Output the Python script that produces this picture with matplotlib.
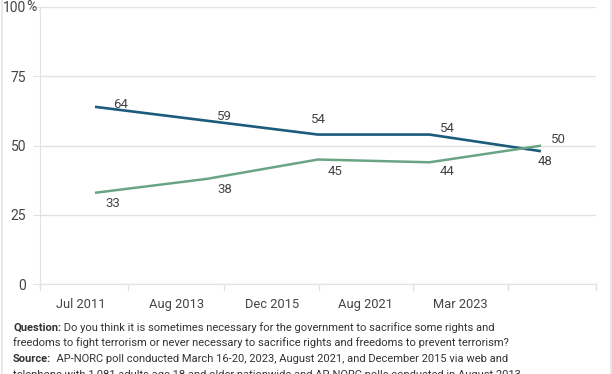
import matplotlib.pyplot as plt
from matplotlib.lines import Line2D

plt.rcParams['font.family'] = ['Roboto', 'DejaVu Sans']

dates = ['Jul 2011', 'Aug 2013', 'Dec 2015', 'Aug 2021', 'Mar 2023']
sometimes = [64, 59, 54, 54, 48]
never = [33, 38, 45, 44, 50]

# label offsets in pixels (dx, dy)
off_sometimes = [(26, 2), (18, 4), (0, 15), (18, 6), (4, -10)]
off_never = [(18, -11), (18, -11), (17, -12), (18, -9), (17, 6)]

blue = '#1b5b7c'
green = '#6ba485'
grid = '#e2e2e2'
txt = '#444444'

fig = plt.figure(figsize=(6.12, 3.74), dpi=100)
ax = fig.add_axes([40 / 612, 1 - 284.3 / 374, 556 / 612, 277.3 / 374])

xs = list(range(len(dates)))
ax.plot(xs, sometimes, color=blue, lw=1.9, solid_capstyle='butt', zorder=3)
ax.plot(xs, never, color=green, lw=1.8, solid_capstyle='butt', zorder=3)

px = 72 / 100  # pixels -> points
for x, v, (dx, dy) in zip(xs, sometimes, off_sometimes):
    ax.annotate(str(v), (x, v), xytext=(dx * px, dy * px), textcoords='offset points',
                ha='center', va='center', fontsize=9.5, color=txt, zorder=4)
for x, v, (dx, dy) in zip(xs, never, off_never):
    ax.annotate(str(v), (x, v), xytext=(dx * px, dy * px), textcoords='offset points',
                ha='center', va='center', fontsize=9.5, color=txt, zorder=4)

ax.set_xlim(-0.4933, 4.4933)
ax.set_ylim(0, 100)

ax.set_yticks([0, 25, 50, 75, 100])
ax.set_yticklabels(['0', '25', '50', '75', '100'])
ax.tick_params(axis='y', length=5, color=grid, labelsize=10, labelcolor=txt, pad=5)
fig.text(26.5 / 612, 1 - 7 / 374, '%', fontsize=10, color=txt, ha='left', va='center')
ax.yaxis.grid(True, color=grid, lw=1)
ax.set_axisbelow(True)

# category labels and band separators
label_pos = [-0.126, 0.735, 1.587, 2.43, 3.28]
sep_pos = [-0.4933, 0.296, 1.157, 2.009, 2.852, 3.704, 4.4933]
ax.set_xticks(label_pos)
ax.set_xticklabels(dates)
ax.tick_params(axis='x', length=0, labelsize=9.3, labelcolor=txt, pad=10)
xform = ax.get_xaxis_transform()
for s in sep_pos:
    ax.add_line(Line2D([s, s], [0, -0.02], transform=xform, color=grid, lw=1, clip_on=False))

for s in ['top', 'right']:
    ax.spines[s].set_visible(False)
ax.spines['left'].set_color(grid)
ax.spines['bottom'].set_color(grid)

# footnote
fs = 8
rows = [
    ('Question:', ' Do you think it is sometimes necessary for the government to sacrifice some rights and'),
    ('', 'freedoms to fight terrorism or never necessary to sacrifice rights and freedoms to prevent terrorism?'),
    ('Source:', '  AP-NORC poll conducted March 16-20, 2023, August 2021, and December 2015 via web and'),
    ('', 'telephone with 1,081 adults age 18 and older nationwide and AP-NORC polls conducted in August 2013'),
]
y0 = 1 - 331 / 374
for i, (b, rest) in enumerate(rows):
    y = y0 - i * 15.5 / 374
    if b:
        t = fig.text(13 / 612, y, b, fontsize=fs, fontweight='bold', color='#333333', va='baseline')
        fig.canvas.draw()
        ext = t.get_window_extent()
        fig.text(ext.x1 / 612, y, rest, fontsize=fs, color='#333333', va='baseline')
    else:
        fig.text(13 / 612, y, rest, fontsize=fs, color='#333333', va='baseline')

# frame lines
fig.add_artist(Line2D([1.5 / 612, 1.5 / 612], [0, 1], color='#e4e4e4', lw=1.2))
fig.add_artist(Line2D([610.5 / 612, 610.5 / 612], [0, 1], color='#e4e4e4', lw=1.2))

fig.savefig('out.png', dpi=100)
